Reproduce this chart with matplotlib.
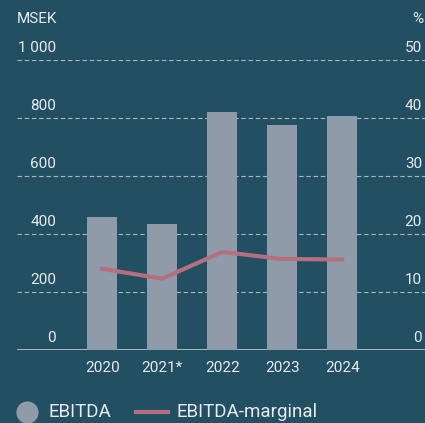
import matplotlib
matplotlib.use("Agg")
import matplotlib.pyplot as plt
from matplotlib.lines import Line2D
from matplotlib.transforms import offset_copy
import numpy as np

years = ["2020", "2021*", "2022", "2023", "2024"]
ebitda = [459, 434, 821, 776, 807]          # MSEK
margin = [14.0, 12.3, 16.9, 15.7, 15.6]     # %
left_ticks = [0, 200, 400, 600, 800, 1000]
left_labels = ["0", "200", "400", "600", "800", "1 000"]
right_ticks = [0, 10, 20, 30, 40, 50]

bg = "#234f63"
bar_col = "#8f9ba9"
line_col = "#b5707f"
txt = "#e8ecee"
grid_col = "#a8b8c0"

plt.rcParams["font.family"] = ["Roboto", "DejaVu Sans"]

W, H = 425, 423
fig = plt.figure(figsize=(W / 100, H / 100), dpi=100, facecolor=bg)
ax = fig.add_axes([17 / W, 1 - 350 / H, 1 - 17 / W, (350 - 60) / H])
ax.set_facecolor(bg)
ax2 = ax.twinx()

x = np.arange(len(years))
ax.bar(x, ebitda, width=0.5, color=bar_col, zorder=3)
ax.set_ylim(0, 1000)
ax.set_xlim(-1.42, 5.38)

# dashed grid + solid baseline
for t in left_ticks[1:]:
    ax.axhline(t, color=grid_col, lw=0.8, ls=(0, (4, 2.5)), zorder=1)
ax.axhline(0, color="#c8cbcc", lw=1.2, zorder=2)

ax2.plot(x, margin, color=line_col, lw=3, zorder=4, solid_capstyle="projecting")
ax2.set_ylim(0, 50)

for a in (ax, ax2):
    for s in a.spines.values():
        s.set_visible(False)
    a.set_yticks([])
ax.set_xticks(x, years)
ax.tick_params(axis="x", length=0, colors=txt, labelsize=11, pad=8)

# tick labels sit just above the grid lines
for t, lab in zip(left_ticks, left_labels):
    ax.text((56 - 17) / (W - 17), t, lab,
            transform=offset_copy(ax.get_yaxis_transform(), fig=fig, y=12, units="dots"),
            ha="right", va="center", color=txt, fontsize=11)
for t in right_ticks:
    ax2.text((422 - 17) / (W - 17), t, str(t),
             transform=offset_copy(ax2.get_yaxis_transform(), fig=fig, y=12, units="dots"),
             ha="right", va="center", color=txt, fontsize=11)

fig.text(17 / W, 1 - 19 / H, "MSEK", ha="left", va="center", color=txt, fontsize=11)
fig.text(423 / W, 1 - 19 / H, "%", ha="right", va="center", color=txt, fontsize=11)

# legend
ly = 1 - 412 / H
fig.add_artist(Line2D([26.5 / W], [ly], marker="o", markersize=15, color=bar_col,
                      ls="none", transform=fig.transFigure))
fig.text(48 / W, ly, "EBITDA", ha="left", va="center", color=txt, fontsize=13.5)
fig.add_artist(Line2D([136 / W, 168 / W], [ly, ly], color=line_col, lw=3,
                      transform=fig.transFigure))
fig.text(177 / W, ly, "EBITDA-marginal", ha="left", va="center", color=txt, fontsize=13.5)

fig.savefig("out.png", dpi=100, facecolor=bg)
